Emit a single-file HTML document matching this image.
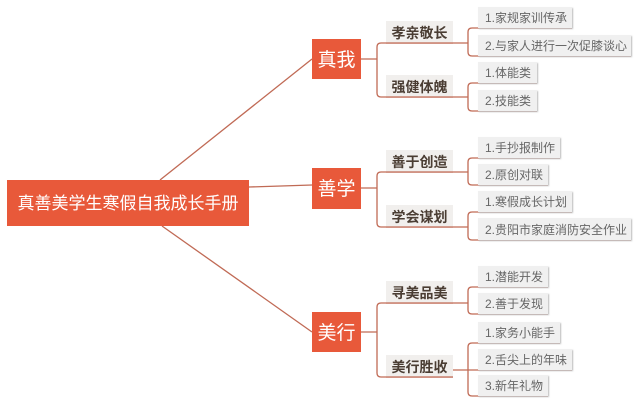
<!DOCTYPE html>
<html><head><meta charset="utf-8"><style>
body{margin:0;background:#fff;}
svg text{font-family:"Liberation Sans","Noto Sans CJK SC",sans-serif;}
.l1{fill:#fff;font-size:19px;}
.l2{fill:#4a3d33;font-size:14px;font-weight:bold;}
.l3{fill:#666;font-size:12px;}
</style></head><body>
<svg width="640" height="405" viewBox="0 0 640 405" xmlns="http://www.w3.org/2000/svg">
<defs><filter id="s" x="-10%" y="-20%" width="130%" height="160%"><feDropShadow dx="1" dy="1" stdDeviation="0.8" flood-color="#bbb"/></filter></defs>
<g stroke="#c06a55" stroke-width="1.3" fill="none">
<line x1="160" y1="180" x2="312" y2="59"/>
<line x1="249" y1="187" x2="312" y2="185"/>
<line x1="162" y1="226" x2="312" y2="332"/>
<!-- level1 brackets -->
<path d="M361 59 H377 M453 43 H381 Q377 43 377 47 V93 Q377 97 381 97 H453"/>
<path d="M361 188 H377 M453 172 H381 Q377 172 377 176 V223 Q377 227 381 227 H453"/>
<path d="M361 332 H377 M453 303 H381 Q377 303 377 307 V373 Q377 377 381 377 H453"/>
<!-- level2 brackets -->
<path d="M453 43 H468 M572 28 H472 Q468 28 468 32 V52 Q468 56 472 56 H631"/>
<path d="M453 97 H468 M537 83 H472 Q468 83 468 87 V107 Q468 111 472 111 H537"/>
<path d="M453 172 H468 M560 158 H472 Q468 158 468 162 V181 Q468 185 472 185 H548"/>
<path d="M453 227 H468 M572 212 H472 Q468 212 468 216 V236 Q468 240 472 240 H631"/>
<path d="M453 303 H468 M548 287 H472 Q468 287 468 291 V310 Q468 314 472 314 H548"/>
<path d="M453 370 H468 M560 343 H472 Q468 343 468 347 V392 Q468 396 472 396 H548 M468 370 H572"/>
</g>
<!-- root -->
<rect x="7" y="180" width="242" height="46" fill="#e8593a"/>
<text x="128" y="209" text-anchor="middle" fill="#fff" font-size="17">真善美学生寒假自我成长手册</text>
<!-- level1 -->
<rect x="312" y="39" width="49" height="40" fill="#e8593a"/><text class="l1" x="336.5" y="66" text-anchor="middle">真我</text>
<rect x="312" y="168" width="49" height="41" fill="#e8593a"/><text class="l1" x="336.5" y="195" text-anchor="middle">善学</text>
<rect x="312" y="312" width="49" height="40" fill="#e8593a"/><text class="l1" x="336.5" y="339" text-anchor="middle">美行</text>
<!-- level2 -->
<g fill="#f1efed">
<rect x="386" y="21" width="67" height="22"/><rect x="386" y="75" width="67" height="22"/>
<rect x="386" y="150" width="67" height="22"/><rect x="386" y="205" width="67" height="22"/>
<rect x="386" y="281" width="67" height="22"/><rect x="386" y="355" width="67" height="22"/>
</g>
<g stroke="#c06a55" stroke-width="1.3"><line x1="386" y1="43" x2="453" y2="43"/><line x1="386" y1="97" x2="453" y2="97"/><line x1="386" y1="172" x2="453" y2="172"/><line x1="386" y1="227" x2="453" y2="227"/><line x1="386" y1="303" x2="453" y2="303"/><line x1="386" y1="377" x2="453" y2="377"/></g>
<g class="l2" text-anchor="middle">
<text x="419.5" y="38">孝亲敬长</text><text x="419.5" y="92">强健体魄</text>
<text x="419.5" y="167">善于创造</text><text x="419.5" y="222">学会谋划</text>
<text x="419.5" y="298">寻美品美</text><text x="419.5" y="372">美行胜收</text>
</g>
<!-- level3 -->
<g fill="#f0f0f0" filter="url(#s)">
<rect x="478" y="7" width="94" height="21"/><rect x="478" y="35" width="153" height="21"/>
<rect x="478" y="62" width="59" height="21"/><rect x="478" y="90" width="59" height="21"/>
<rect x="478" y="137" width="82" height="21"/><rect x="478" y="164" width="70" height="21"/>
<rect x="478" y="191" width="94" height="21"/><rect x="478" y="218" width="153" height="22"/>
<rect x="478" y="266" width="70" height="21"/><rect x="478" y="293" width="70" height="21"/>
<rect x="478" y="322" width="82" height="21"/><rect x="478" y="349" width="94" height="21"/>
<rect x="478" y="375" width="70" height="21"/>
</g>
<g class="l3">
<text x="485" y="22">1.家规家训传承</text><text x="485" y="50">2.与家人进行一次促膝谈心</text>
<text x="485" y="77">1.体能类</text><text x="485" y="105">2.技能类</text>
<text x="485" y="152">1.手抄报制作</text><text x="485" y="179">2.原创对联</text>
<text x="485" y="206">1.寒假成长计划</text><text x="485" y="234">2.贵阳市家庭消防安全作业</text>
<text x="485" y="281">1.潜能开发</text><text x="485" y="308">2.善于发现</text>
<text x="485" y="337">1.家务小能手</text><text x="485" y="364">2.舌尖上的年味</text>
<text x="485" y="390">3.新年礼物</text>
</g>
</svg>
</body></html>
